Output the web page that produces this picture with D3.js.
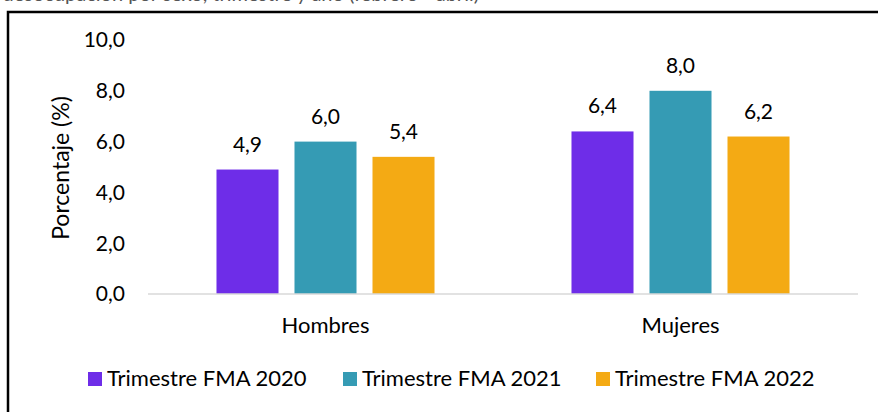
<!DOCTYPE html>
<html>
<head>
<meta charset="utf-8">
<style>
body { margin: 0; background: #fff; }
text { font-family: Lato, "Open Sans", sans-serif; fill: #000; }
</style>
</head>
<body>
<script src="https://cdn.jsdelivr.net/npm/d3@7"></script>
<script>

// data
var categories = ["Hombres", "Mujeres"];
var series = ["Trimestre FMA 2020", "Trimestre FMA 2021", "Trimestre FMA 2022"];
var values2020 = [4.9, 6.4];
var values2021 = [6.0, 8.0];
var values2022 = [5.4, 6.2];
var yTicks = [0, 2, 4, 6, 8, 10];
var colors = ["#6e2de8", "#359bb4", "#f4aa14"];

var allValues = [values2020, values2021, values2022];

var width = 878, height = 412;

var svg = d3.select("body").append("svg")
    .attr("width", width)
    .attr("height", height);

// title, mostly cut off at the top edge as in the original
svg.append("text")
    .attr("x", 479)
    .attr("y", 1)
    .attr("text-anchor", "end")
    .style("font-size", "20px")
    .style("fill", "#555")
    .text("Tasa de desocupación por sexo, trimestre y año (febrero - abril)");

// frame
svg.append("path")
    .attr("d", "M8,420 L8,12 L890,12")
    .style("fill", "none")
    .style("stroke", "#000")
    .style("stroke-width", 2.5);

var x0 = d3.scaleBand()
    .domain(categories)
    .range([148, 858]);

var x1 = d3.scaleBand()
    .domain(series)
    .range([0, x0.bandwidth()])
    .paddingInner(0.205)
    .paddingOuter(0.878);

var y = d3.scaleLinear()
    .domain([0, 10])
    .range([294, 40]);

// y tick labels
svg.append("g").selectAll("text")
    .data(yTicks)
    .enter().append("text")
    .attr("x", 125)
    .attr("y", function(d) { return y(d); })
    .attr("dy", "0.35em")
    .attr("text-anchor", "end")
    .style("font-size", "21px")
    .text(function(d) { return d3.format(".1f")(d).replace(".", ","); });

// y title
svg.append("text")
    .attr("transform", "translate(69," + ((y(0) + y(10)) / 2 + 1) + ") rotate(-90)")
    .attr("text-anchor", "middle")
    .style("font-size", "23px")
    .text("Porcentaje (%)");

// bars
var groups = svg.append("g").selectAll("g")
    .data(categories)
    .enter().append("g")
    .attr("transform", function(d) { return "translate(" + x0(d) + ",0)"; });

function rows(c, i) {
  return series.map(function(s, j) { return {series: s, value: allValues[j][i], idx: j}; });
}

groups.selectAll("rect")
    .data(rows)
    .enter().append("rect")
    .attr("x", function(d) { return x1(d.series); })
    .attr("y", function(d) { return y(d.value); })
    .attr("width", x1.bandwidth())
    .attr("height", function(d) { return y(0) - y(d.value); })
    .style("fill", function(d) { return colors[d.idx]; });

groups.selectAll("text.val")
    .data(rows)
    .enter().append("text")
    .attr("class", "val")
    .attr("x", function(d) { return x1(d.series) + x1.bandwidth() / 2; })
    .attr("y", function(d) { return y(d.value) - 18; })
    .attr("text-anchor", "middle")
    .style("font-size", "21px")
    .text(function(d) { return d3.format(".1f")(d.value).replace(".", ","); });

// baseline
svg.append("line")
    .attr("x1", 148)
    .attr("x2", 858)
    .attr("y1", y(0))
    .attr("y2", y(0))
    .style("stroke", "#d9d9d9")
    .style("stroke-width", 1.5);

// category labels
svg.append("g").selectAll("text")
    .data(categories)
    .enter().append("text")
    .attr("x", function(d) { return x0(d) + x0.bandwidth() / 2; })
    .attr("y", 333)
    .attr("text-anchor", "middle")
    .style("font-size", "22px")
    .text(function(d) { return d; });

// legend
var legendX = [88, 343, 596];
var legend = svg.append("g").selectAll("g")
    .data(series)
    .enter().append("g")
    .attr("transform", function(d, i) { return "translate(" + legendX[i] + ",372)"; });

legend.append("rect")
    .attr("width", 14)
    .attr("height", 14)
    .style("fill", function(d, i) { return colors[i]; });

legend.append("text")
    .attr("x", 19)
    .attr("y", 14)
    .style("font-size", "22px")
    .text(function(d) { return d; });

</script>
</body>
</html>
